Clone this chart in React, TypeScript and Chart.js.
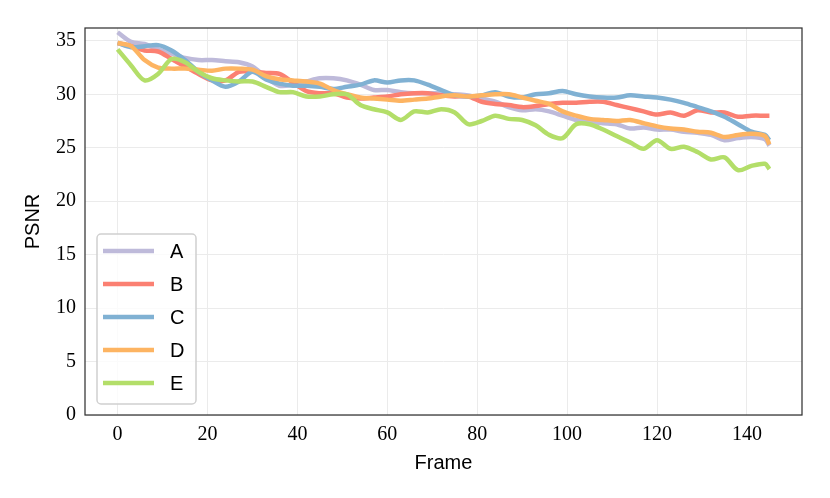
import { useEffect, useRef } from 'react';
import { Chart, registerables } from 'chart.js';

Chart.register(...registerables);

const frames = [0, 3, 6, 9, 12, 15, 18, 21, 24, 27, 30, 33, 36, 39, 42, 45, 48, 51, 54, 57, 60, 63, 66, 69, 72, 75, 78, 81, 84, 87, 90, 93, 96, 99, 102, 105, 108, 111, 114, 117, 120, 123, 126, 129, 132, 135, 138, 141, 144, 145];

const psnrA = [35.8, 34.9, 34.7, 34.2, 33.8, 33.4, 33.2, 33.2, 33.1, 33.0, 32.6, 31.6, 30.8, 30.9, 31.2, 31.5, 31.5, 31.3, 30.9, 30.4, 30.4, 30.2, 30.1, 30.1, 30.1, 30.0, 29.9, 29.6, 29.3, 28.8, 28.5, 28.6, 28.4, 28.0, 27.6, 27.4, 27.3, 27.2, 26.8, 26.9, 26.7, 26.7, 26.5, 26.4, 26.2, 25.7, 25.9, 26.0, 25.8, 25.2];
const psnrB = [34.8, 34.5, 34.1, 34.0, 33.3, 32.6, 31.9, 31.3, 31.3, 32.1, 32.1, 32.0, 31.9, 31.1, 30.3, 30.1, 30.1, 29.7, 29.6, 29.7, 29.8, 30.0, 30.1, 30.1, 29.9, 29.8, 29.8, 29.3, 29.1, 29.0, 28.8, 28.9, 29.1, 29.2, 29.2, 29.3, 29.3, 29.0, 28.7, 28.4, 28.1, 28.3, 28.0, 28.5, 28.3, 28.3, 27.9, 28.0, 28.0, 28.0];
const psnrC = [34.8, 34.4, 34.5, 34.6, 34.1, 33.2, 32.1, 31.3, 30.7, 31.2, 32.1, 31.4, 31.0, 30.8, 30.8, 30.7, 30.5, 30.7, 30.9, 31.3, 31.1, 31.3, 31.3, 30.9, 30.4, 29.9, 29.8, 29.9, 30.2, 29.8, 29.7, 30.0, 30.1, 30.3, 30.0, 29.8, 29.7, 29.7, 29.9, 29.8, 29.7, 29.5, 29.2, 28.8, 28.4, 27.9, 27.2, 26.5, 26.2, 25.7];
const psnrD = [34.8, 34.5, 33.2, 32.5, 32.4, 32.4, 32.3, 32.2, 32.4, 32.4, 32.3, 31.7, 31.4, 31.3, 31.2, 31.0, 30.4, 30.0, 29.7, 29.6, 29.5, 29.4, 29.5, 29.6, 29.8, 29.9, 29.8, 29.9, 30.0, 30.0, 29.7, 29.4, 29.1, 28.4, 28.0, 27.7, 27.6, 27.5, 27.6, 27.3, 27.0, 26.8, 26.7, 26.5, 26.4, 26.0, 26.2, 26.3, 26.1, 25.3];
const psnrE = [34.2, 32.7, 31.3, 31.9, 33.3, 33.0, 32.1, 31.5, 31.3, 31.2, 31.2, 30.7, 30.2, 30.2, 29.8, 29.8, 30.0, 30.0, 29.0, 28.6, 28.3, 27.6, 28.4, 28.3, 28.6, 28.3, 27.2, 27.5, 28.0, 27.7, 27.6, 27.1, 26.2, 25.9, 27.2, 27.2, 26.7, 26.1, 25.5, 24.9, 25.7, 24.9, 25.1, 24.6, 23.9, 24.1, 22.9, 23.3, 23.5, 23.0];

const seriesLabels = ['A', 'B', 'C', 'D', 'E'];
const seriesValues = [psnrA, psnrB, psnrC, psnrD, psnrE];
const seriesColors = ['#bebada', '#fb8072', '#80b1d3', '#fdb462', '#b3de69'];

const xTicks = [0, 20, 40, 60, 80, 100, 120, 140];
const yTicks = [0, 5, 10, 15, 20, 25, 30, 35];

const serif = "'Liberation Serif', 'Times New Roman', serif";
const sans = "'Liberation Sans', Arial, sans-serif";

// axes frame + legend box in the lower left corner
const frameLegend = {
    id: 'frameLegend',
    afterDatasetsDraw(chart: any) {
        const { ctx, chartArea: a } = chart;
        ctx.save();
        ctx.strokeStyle = '#333333';
        ctx.lineWidth = 1.25;
        ctx.strokeRect(a.left, a.top, a.right - a.left, a.bottom - a.top);

        const bx = a.left + 12;
        const by = a.bottom - 181;
        const bw = 99;
        const bh = 170;
        ctx.beginPath();
        ctx.roundRect(bx, by, bw, bh, 4);
        ctx.fillStyle = 'rgba(255,255,255,0.8)';
        ctx.fill();
        ctx.strokeStyle = '#d0d0d0';
        ctx.lineWidth = 1.5;
        ctx.stroke();

        ctx.font = `20px ${sans}`;
        ctx.textBaseline = 'middle';
        seriesLabels.forEach((label, i) => {
            const y = by + 17 + i * 33;
            ctx.beginPath();
            ctx.moveTo(bx + 6, y);
            ctx.lineTo(bx + 57, y);
            ctx.strokeStyle = seriesColors[i];
            ctx.lineWidth = 4.5;
            ctx.stroke();
            ctx.fillStyle = '#000000';
            ctx.fillText(label, bx + 73, y + 1);
        });
        ctx.restore();
    }
};

export default function App() {
    const canvasRef = useRef<HTMLCanvasElement>(null);

    useEffect(() => {
        const ctx = canvasRef.current?.getContext('2d');
        if (!ctx) return;

        const chart = new Chart(ctx, {
            type: 'line',
            data: {
                datasets: seriesLabels.map((label, i) => ({
                    label,
                    data: frames.map((f, j) => ({ x: f, y: seriesValues[i][j] })),
                    borderColor: seriesColors[i],
                    backgroundColor: seriesColors[i],
                    borderWidth: 4.5,
                    pointRadius: 0,
                    tension: 0.3,
                    fill: false,
                    order: seriesLabels.length - i,
                })),
            },
            options: {
                animation: false,
                responsive: true,
                maintainAspectRatio: false,
                layout: { padding: { top: 28, right: 28, left: 0, bottom: 0 } },
                plugins: {
                    legend: { display: false },
                    tooltip: { enabled: false },
                },
                scales: {
                    x: {
                        type: 'linear',
                        min: -7.25,
                        max: 152.25,
                        afterBuildTicks: (scale: any) => {
                            scale.ticks = xTicks.map((v) => ({ value: v }));
                        },
                        afterFit: (scale: any) => {
                            scale.height = 83;
                        },
                        grid: { color: '#ebebeb', lineWidth: 1, drawTicks: false },
                        border: { display: false },
                        ticks: {
                            color: '#000',
                            padding: 8,
                            maxRotation: 0,
                            font: { family: serif, size: 20 },
                        },
                        title: {
                            display: true,
                            text: 'Frame',
                            color: '#000',
                            font: { family: sans, size: 20 },
                            padding: { top: 0, bottom: 23 },
                        },
                    },
                    y: {
                        type: 'linear',
                        min: 0,
                        max: 36.2,
                        afterBuildTicks: (scale: any) => {
                            scale.ticks = yTicks.map((v) => ({ value: v }));
                        },
                        afterFit: (scale: any) => {
                            scale.width = 85;
                        },
                        grid: { color: '#ebebeb', lineWidth: 1, drawTicks: false },
                        border: { display: false },
                        ticks: {
                            color: '#000',
                            padding: 9,
                            font: { family: serif, size: 20 },
                        },
                        title: {
                            display: true,
                            text: 'PSNR',
                            color: '#000',
                            font: { family: sans, size: 20 },
                            padding: { top: 21, bottom: 0 },
                        },
                    },
                },
            },
            plugins: [frameLegend],
        });

        return () => {
            chart.destroy();
        };
    }, []);

    return (
        <div style={{ position: 'absolute', left: 0, top: 0, width: 830, height: 498, background: '#fff' }}>
            <canvas ref={canvasRef} />
        </div>
    );
}
